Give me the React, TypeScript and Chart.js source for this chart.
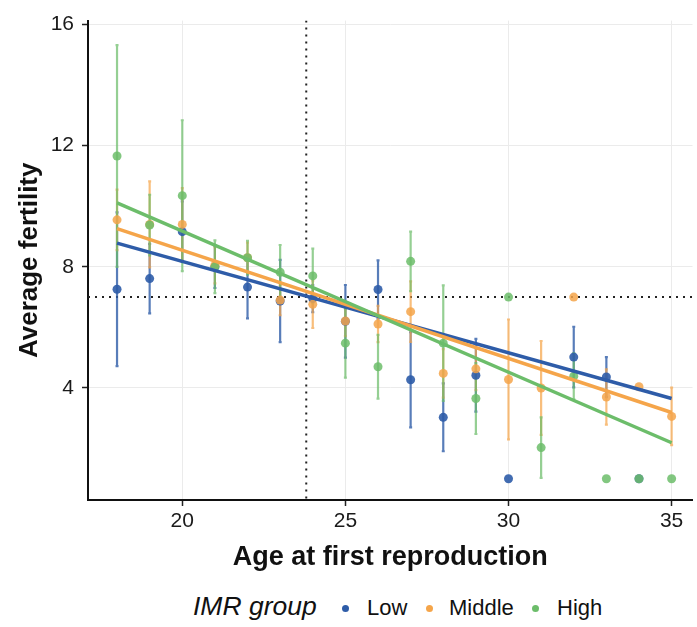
import React, { useEffect, useRef } from "react";
import { Chart, registerables } from "chart.js";

Chart.register(...registerables);

const FONT = "'Liberation Sans', Arial, Helvetica, sans-serif";

// Ages at first reproduction (x categories)
const ages = [18, 19, 20, 21, 22, 23, 24, 25, 26, 27, 28, 29, 30, 31, 32, 33, 34, 35];

// Low IMR group: means and error half-widths
const lowMean = [7.26, 7.61, 9.16, 8.0, 7.33, 6.87, 6.95, 6.2, 7.25, 4.27, 3.03, 4.42, 1.0, null, 5.02, 4.36, 1.0, null];
const lowErr = [2.54, 1.15, 1.0, 0.7, 1.03, 1.36, 0.45, 1.2, 0.96, 1.57, 1.12, 1.2, 0, 0, 1.0, 0.66, 0, 0];

// Middle IMR group
const midMean = [9.55, 9.4, 9.4, 8.05, 8.3, 6.9, 6.76, 6.21, 6.11, 6.52, 4.48, 4.63, 4.28, 4.0, 7.0, 3.7, 4.04, 3.06];
const midErr = [1.0, 1.42, 1.2, 0.6, 0.5, 0.5, 0.78, 0.5, 0.6, 1.0, 0.8, 0.7, 1.98, 1.55, 0, 0.91, 0, 0.95];

// High IMR group
const highMean = [11.66, 9.38, 10.35, 8.0, 8.3, 7.82, 7.7, 5.48, 4.7, 8.18, 5.48, 3.65, 7.0, 2.03, 4.39, 1.0, 1.0, 1.0];
const highErr = [3.66, 1.0, 2.49, 0.87, 0.56, 0.9, 0.9, 1.14, 1.05, 0.98, 1.91, 1.17, 0, 1.0, 0.76, 0, 0, 0];

// Linear fits (values at the first and last age)
const fitAges = [18, 35];
const lowFit = [8.78, 3.65];
const midFit = [9.26, 3.19];
const highFit = [10.11, 2.19];

// Reference lines
const refFertility = 7.0;
const refAge = 23.8;

// Axes
const xTicks = [20, 25, 30, 35];
const yTicks = [4, 8, 12, 16];
const xRange = [17.11, 35.64];
const yRange = [0.3, 16.13];

const groupNames = ["Low", "Middle", "High"];
const legendTitle = "IMR group";
const xTitle = "Age at first reproduction";
const yTitle = "Average fertility";

const groups = [
  { name: groupNames[0], mean: lowMean, err: lowErr, fit: lowFit, line: "#2e5ca8", point: "rgba(46,92,168,0.9)", bar: "rgba(46,92,168,0.8)" },
  { name: groupNames[1], mean: midMean, err: midErr, fit: midFit, line: "#f5a54a", point: "rgba(245,165,74,0.85)", bar: "rgba(245,165,74,0.72)" },
  { name: groupNames[2], mean: highMean, err: highErr, fit: highFit, line: "#6cbd6a", point: "rgba(108,189,106,0.85)", bar: "rgba(108,189,106,0.72)" },
];

const errorBarPlugin = {
  id: "errorBars",
  beforeDatasetsDraw(chart: any) {
    const { ctx, chartArea, scales } = chart;
    const x = scales.x;
    const y = scales.y;
    ctx.save();
    ctx.beginPath();
    ctx.rect(chartArea.left, chartArea.top, chartArea.right - chartArea.left, chartArea.bottom - chartArea.top);
    ctx.clip();

    // dotted reference lines
    ctx.strokeStyle = "#222";
    ctx.lineWidth = 2;
    ctx.setLineDash([2, 5]);
    const ry = y.getPixelForValue(refFertility);
    ctx.beginPath();
    ctx.moveTo(chartArea.left, ry);
    ctx.lineTo(chartArea.right, ry);
    ctx.stroke();
    const rx = x.getPixelForValue(refAge);
    ctx.beginPath();
    ctx.moveTo(rx, chartArea.top);
    ctx.lineTo(rx, chartArea.bottom);
    ctx.stroke();
    ctx.setLineDash([]);

    // error bars
    groups.forEach((g) => {
      ctx.strokeStyle = g.bar;
      ctx.lineWidth = 2.2;
      ages.forEach((a, i) => {
        const m = g.mean[i];
        const e = g.err[i];
        if (m === null || !e) return;
        const px = x.getPixelForValue(a);
        const y1 = y.getPixelForValue(m - e);
        const y2 = y.getPixelForValue(m + e);
        ctx.beginPath();
        ctx.moveTo(px, y1);
        ctx.lineTo(px, y2);
        ctx.moveTo(px - 1.5, y1);
        ctx.lineTo(px + 1.5, y1);
        ctx.moveTo(px - 1.5, y2);
        ctx.lineTo(px + 1.5, y2);
        ctx.stroke();
      });
    });
    ctx.restore();
  },
};

export default function App() {
  const ref = useRef<HTMLCanvasElement | null>(null);

  useEffect(() => {
    if (!ref.current) return;
    const datasets: any[] = [];
    // fit lines (on top): green first => drawn last
    [2, 1, 0].forEach((gi, k) => {
      const g = groups[gi];
      datasets.push({
        type: "line",
        label: g.name + " fit",
        data: fitAges.map((a, i) => ({ x: a, y: g.fit[i] })),
        borderColor: g.line,
        borderWidth: 3.5,
        pointRadius: 0,
        fill: false,
        order: k,
      });
    });
    [2, 1, 0].forEach((gi, k) => {
      const g = groups[gi];
      datasets.push({
        type: "scatter",
        label: g.name,
        data: ages
          .map((a, i) => ({ x: a, y: g.mean[i] }))
          .filter((p) => p.y !== null),
        backgroundColor: g.point,
        borderWidth: 0,
        pointRadius: 4.5,
        order: 3 + k,
      });
    });

    const chart = new Chart(ref.current, {
      type: "scatter",
      data: { datasets },
      plugins: [errorBarPlugin],
      options: {
        responsive: false,
        animation: false,
        layout: { padding: { top: 16, left: 0, right: 0, bottom: 0 } },
        plugins: { legend: { display: false }, tooltip: { enabled: false } },
        scales: {
          x: {
            type: "linear",
            min: xRange[0],
            max: xRange[1],
            afterBuildTicks: (s: any) => {
              s.ticks = xTicks.map((v) => ({ value: v }));
            },
            afterFit: (s: any) => {
              s.height = 80;
            },
            ticks: { font: { size: 21, family: FONT }, color: "#1a1a1a", padding: 3, maxRotation: 0 },
            grid: { color: "#ebebeb", lineWidth: 1, tickColor: "#222", tickLength: 6, tickWidth: 1.5 },
            border: { color: "#111", width: 2 },
            title: {
              display: true,
              text: xTitle,
              color: "#111",
              font: { size: 27, weight: "bold", family: FONT },
              padding: { top: 0, bottom: 6 },
            },
          },
          y: {
            type: "linear",
            min: yRange[0],
            max: yRange[1],
            afterBuildTicks: (s: any) => {
              s.ticks = yTicks.map((v) => ({ value: v }));
            },
            afterFit: (s: any) => {
              s.width = 88;
            },
            ticks: { font: { size: 21, family: FONT }, color: "#1a1a1a", padding: 8 },
            grid: { color: "#ebebeb", lineWidth: 1, tickColor: "#222", tickLength: 6, tickWidth: 1.5 },
            border: { color: "#111", width: 2 },
            title: {
              display: true,
              text: yTitle,
              color: "#111",
              font: { size: 26, weight: "bold", family: FONT },
              padding: { top: 14, bottom: 0 },
            },
          },
        },
      },
    } as any);
    return () => chart.destroy();
  }, []);

  const legendItems = [
    { dot: 345, text: 367, g: groups[0] },
    { dot: 429, text: 449, g: groups[1] },
    { dot: 535, text: 557, g: groups[2] },
  ];

  return (
    <div style={{ position: "fixed", left: 0, top: 0, width: 697, height: 627, background: "#fff", overflow: "hidden", fontFamily: FONT }}>
      <canvas ref={ref} width={697} height={580} style={{ position: "absolute", left: 0, top: 0, width: 697, height: 580 }} />
      <div style={{ position: "absolute", left: 193, top: 591, fontSize: 26.5, fontStyle: "italic", color: "#111", lineHeight: "30px", whiteSpace: "nowrap" }}>
        {legendTitle}
      </div>
      {legendItems.map((it) => (
        <React.Fragment key={it.g.name}>
          <div style={{ position: "absolute", left: it.dot - 3.5, top: 604.5, width: 7, height: 7, borderRadius: "50%", background: it.g.line }} />
          <div style={{ position: "absolute", left: it.text, top: 594, fontSize: 22, color: "#111", lineHeight: "28px", whiteSpace: "nowrap" }}>
            {it.g.name}
          </div>
        </React.Fragment>
      ))}
    </div>
  );
}
